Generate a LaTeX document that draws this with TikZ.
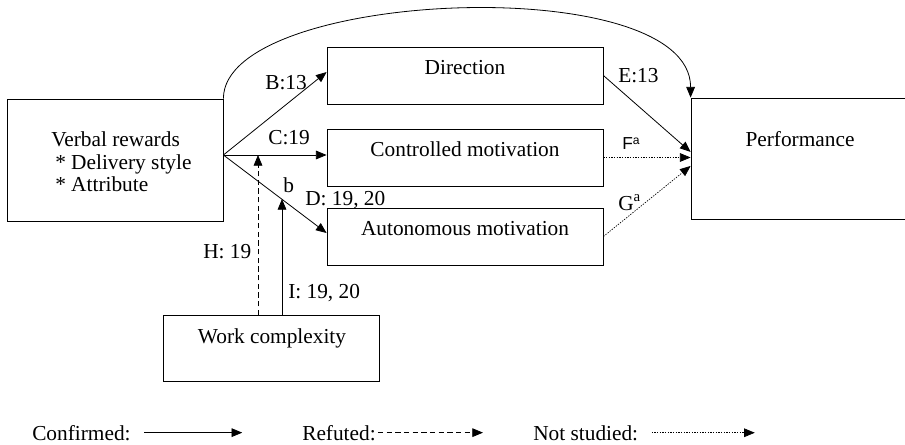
\documentclass[tikz,border=0pt]{standalone}
\usepackage{fontspec}
\setmainfont{Liberation Serif}
\newfontfamily\labsans{Liberation Sans}
\usetikzlibrary{arrows.meta}

\begin{document}
\begin{tikzpicture}[x=0.75pt,y=-0.75pt,
  every node/.style={font=\fontsize{16}{17}\selectfont, inner sep=0pt},
  box/.style={draw, line width=0.6pt},
  confirmed/.style={-{Triangle[length=8pt,width=6.5pt]}, line width=0.6pt},
  refuted/.style={confirmed, dash pattern=on 4pt off 2.5pt},
  notstudied/.style={confirmed, line width=0.5pt, dash pattern=on 1pt off 1pt}]
\useasboundingbox (0,0) rectangle (905,445);

% boxes
\node[box, minimum width=162pt, minimum height=91.5pt] (vr) at (115,160) {};
\node[box, minimum width=207pt, minimum height=42.75pt] (dir) at (465,75.5) {};
\node[box, minimum width=207pt, minimum height=42.75pt] (cm) at (465,157.5) {};
\node[box, minimum width=207pt, minimum height=42.75pt] (am) at (465,236.5) {};
\node[box, minimum width=168pt, minimum height=90.75pt] (perf) at (803,158.5) {};
\node[box, minimum width=162pt, minimum height=49.5pt] (wc) at (271,348) {};

% box texts
\node[anchor=west, align=left] (vrtext) at (51,162)
  {Verbal rewards\\\hspace{3pt}* Delivery style\\\hspace{3pt}* Attribute};
\node[anchor=base] (dirtext) at (465,75) {Direction};
\node[anchor=base] (cmtext) at (465,157) {Controlled motivation};
\node[anchor=base] (amtext) at (465,235) {Autonomous motivation};
\node[anchor=base] (perftext) at (800,147) {Performance};
\node[anchor=base] (wctext) at (272,343) {Work complexity};

% paths
\coordinate (vrout) at ([yshift=3.75pt]vr.east);
\coordinate (hbot) at (258,315);
\coordinate (ibot) at (282,315);
\coordinate (itop) at (282,199);

\draw[confirmed] (vr.north east) .. controls +(0,-109) and +(0,-128) .. (perf.north west);
\draw[confirmed] (vrout) -- ([yshift=2.6pt]dir.west);
\draw[confirmed] (vrout) -- (vrout -| cm.west);
\draw[confirmed] (vrout) -- ([yshift=2.6pt]am.west);
\draw[confirmed] (dir.east) -- ([yshift=4.9pt]perf.west);
\draw[notstudied] (cm.east) -- (cm.east -| perf.west);
\draw[notstudied] (am.east) -- ([yshift=-5.6pt]perf.west);
\draw[refuted] (hbot) -- (hbot |- vrout);
\draw[confirmed] (ibot) -- (itop);

% labels
\node[anchor=base west] (lb) at (265,90) {B:13};
\node[anchor=base west] (lc) at (268,145) {C:19};
\node[anchor=base west] (lbsmall) at (283,193) {b};
\node[anchor=base west] (ld) at (305,205) {D: 19, 20};
\node[anchor=base west] (lh) at (203,258) {H: 19};
\node[anchor=base west] (li) at (288,298) {I: 19, 20};
\node[anchor=base west] (le) at (618,83) {E:13};
\node[anchor=base west] (lf) at (622,150) {\labsans\fontsize{13}{14}\selectfont F\textsuperscript{a}};
\node[anchor=base west] (lg) at (618,210) {G\textsuperscript{a}};

% legend
\node[anchor=base west] (conf) at (32,440) {Confirmed:};
\node[anchor=base west] (ref) at (302,440) {Refuted:};
\node[anchor=base west] (nots) at (533,440) {Not studied:};
\draw[confirmed] ([xshift=10pt]conf.east) -- ++(98,0);
\draw[refuted] ([xshift=1.5pt]ref.east) -- ++(105,0);
\draw[notstudied] ([xshift=10pt]nots.east) -- ++(103,0);
\end{tikzpicture}
\end{document}
